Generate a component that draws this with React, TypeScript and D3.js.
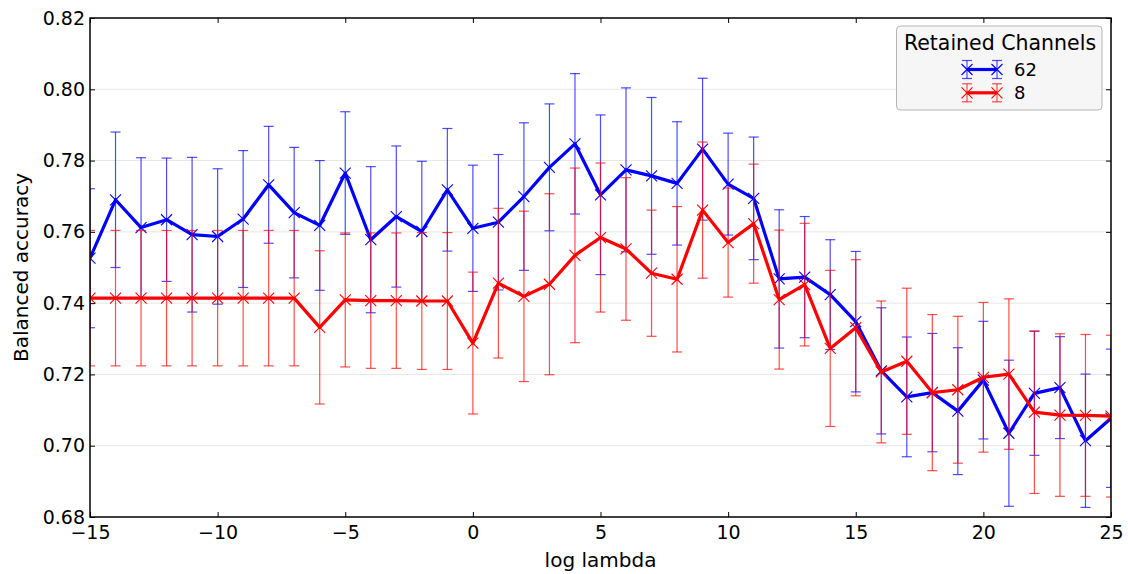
import React, { useEffect, useRef } from 'react';
import * as d3 from 'd3';

// log lambda values
const lambdas = d3.range(-15, 26);

// 62 retained channels
const acc62 = [
  0.7526, 0.769, 0.7612, 0.7634, 0.7592, 0.7587, 0.7636, 0.7732, 0.7654, 0.7618,
  0.7765, 0.7578, 0.7643, 0.7601, 0.7718, 0.761, 0.7627, 0.7699, 0.7781, 0.7847,
  0.7704, 0.7774, 0.7757, 0.7736, 0.7832, 0.7734, 0.7694, 0.7468, 0.7473, 0.7424,
  0.7348, 0.721, 0.7137, 0.7149, 0.7097, 0.7184, 0.7035, 0.7147, 0.7163, 0.7014,
  0.7077
];
const err62 = [
  0.0195, 0.019, 0.0196, 0.0173, 0.0217, 0.019, 0.0192, 0.0164, 0.0183, 0.0182,
  0.0172, 0.0205, 0.0198, 0.0197, 0.0172, 0.0177, 0.019, 0.0207, 0.0178, 0.0197,
  0.0224, 0.023, 0.022, 0.0173, 0.0199, 0.0143, 0.0172, 0.0194, 0.017, 0.0154,
  0.0197, 0.0177, 0.0168, 0.0166, 0.0178, 0.0165, 0.0205, 0.0174, 0.0143, 0.0187,
  0.0194
];

// 8 retained channels
const acc8 = [
  0.7414, 0.7414, 0.7414, 0.7414, 0.7414, 0.7414, 0.7414, 0.7414, 0.7414, 0.7332,
  0.7409, 0.7407, 0.7407, 0.7406, 0.7406, 0.7288, 0.7456, 0.7419, 0.7453, 0.7534,
  0.7584, 0.7552, 0.7484, 0.7467, 0.7661, 0.757, 0.7623, 0.741, 0.7452, 0.7273,
  0.7331, 0.7207, 0.7237, 0.7149, 0.7157, 0.7192, 0.7201, 0.7094, 0.7086, 0.7085,
  0.7083
];
const err8 = [
  0.019, 0.019, 0.019, 0.019, 0.019, 0.019, 0.019, 0.019, 0.019, 0.0215,
  0.0188, 0.019, 0.019, 0.0192, 0.0192, 0.0199, 0.021, 0.0239, 0.0254, 0.0245,
  0.0209, 0.02, 0.0177, 0.0204, 0.0191, 0.0153, 0.0167, 0.0195, 0.0172, 0.0219,
  0.0191, 0.0199, 0.0205, 0.0219, 0.0206, 0.021, 0.0211, 0.0228, 0.0228, 0.0227,
  0.0227
];

const seriesNames = ['62', '8'];
const seriesColors = ['#0000ff', '#ff0000'];
const xTicks = [-15, -10, -5, 0, 5, 10, 15, 20, 25];
const yTicks = [0.68, 0.70, 0.72, 0.74, 0.76, 0.78, 0.80, 0.82];

const font = 'DejaVu Sans, sans-serif';

export default function App() {
  const ref = useRef<SVGSVGElement>(null);

  useEffect(() => {
    const W = 1128, H = 574;
    const m = { left: 90, right: 1111, top: 18, bottom: 517 };
    const svg = d3.select(ref.current);
    svg.selectAll('*').remove();

    const x = d3.scaleLinear().domain([-15, 25]).range([m.left, m.right]);
    const y = d3.scaleLinear().domain([0.68, 0.82]).range([m.bottom, m.top]);

    svg.append('rect').attr('width', W).attr('height', H).attr('fill', '#fff');

    svg.append('defs').append('clipPath').attr('id', 'plotclip')
      .append('rect')
      .attr('x', m.left).attr('y', m.top)
      .attr('width', m.right - m.left).attr('height', m.bottom - m.top);

    // horizontal grid
    svg.append('g')
      .selectAll('line')
      .data(yTicks.slice(1, -1))
      .enter()
      .append('line')
      .attr('x1', m.left).attr('x2', m.right)
      .attr('y1', d => y(d)).attr('y2', d => y(d))
      .attr('stroke', '#e6e6e6')
      .attr('stroke-width', 1);

    const plot = svg.append('g').attr('clip-path', 'url(#plotclip)');
    const series = [
      { acc: acc62, err: err62 },
      { acc: acc8, err: err8 },
    ];

    const cross = (cx: number, cy: number, r: number) =>
      `M${cx - r},${cy - r}L${cx + r},${cy + r}M${cx - r},${cy + r}L${cx + r},${cy - r}`;

    series.forEach((s, k) => {
      const color = seriesColors[k];
      const pts = lambdas.map((l, i) => ({ l, v: s.acc[i], e: s.err[i] }));

      // error bars
      const eb = plot.append('g').attr('stroke', color).attr('stroke-opacity', 0.7).attr('stroke-width', 1.2);
      pts.forEach(p => {
        const x0 = x(p.l), y1 = y(p.v + p.e), y2 = y(p.v - p.e);
        eb.append('line').attr('x1', x0).attr('x2', x0).attr('y1', y1).attr('y2', y2);
        eb.append('line').attr('x1', x0 - 5).attr('x2', x0 + 5).attr('y1', y1).attr('y2', y1);
        eb.append('line').attr('x1', x0 - 5).attr('x2', x0 + 5).attr('y1', y2).attr('y2', y2);
      });

      const line = d3.line<any>().x(d => x(d.l)).y(d => y(d.v));
      plot.append('path')
        .datum(pts)
        .attr('d', line)
        .attr('fill', 'none')
        .attr('stroke', color)
        .attr('stroke-width', 3.2)
        .attr('stroke-linejoin', 'round');

      // x markers
      plot.append('g')
        .selectAll('path')
        .data(pts)
        .enter()
        .append('path')
        .attr('d', d => cross(x(d.l), y(d.v), 5.5))
        .attr('fill', 'none')
        .attr('stroke', color)
        .attr('stroke-width', 1.1);
    });

    // frame
    svg.append('rect')
      .attr('x', m.left).attr('y', m.top)
      .attr('width', m.right - m.left).attr('height', m.bottom - m.top)
      .attr('fill', 'none').attr('stroke', '#000').attr('stroke-width', 1.5);

    const fmtX = (d: number) => (d < 0 ? '\u2212' + Math.abs(d) : String(d));

    // bottom axis
    const gx = svg.append('g').attr('transform', `translate(0,${m.bottom})`)
      .call(d3.axisBottom(x).tickValues(xTicks).tickFormat(fmtX as any).tickSizeInner(-5).tickSizeOuter(0).tickPadding(9));
    // top axis ticks
    const gxt = svg.append('g').attr('transform', `translate(0,${m.top})`)
      .call(d3.axisTop(x).tickValues(xTicks).tickFormat(() => '').tickSizeInner(-5).tickSizeOuter(0));
    // left axis
    const gy = svg.append('g').attr('transform', `translate(${m.left},0)`)
      .call(d3.axisLeft(y).tickValues(yTicks).tickFormat(d3.format('.2f') as any).tickSizeInner(-5).tickSizeOuter(0).tickPadding(5));
    // right axis ticks
    const gyr = svg.append('g').attr('transform', `translate(${m.right},0)`)
      .call(d3.axisRight(y).tickValues(yTicks).tickFormat(() => '').tickSizeInner(-5).tickSizeOuter(0));

    [gx, gxt, gy, gyr].forEach(g => {
      g.select('.domain').remove();
      g.selectAll('line').attr('stroke', '#000').attr('stroke-width', 1);
      g.selectAll('text').attr('font-family', font).attr('font-size', 19).attr('fill', '#000');
    });

    // axis labels
    svg.append('text')
      .attr('x', (m.left + m.right) / 2).attr('y', 567)
      .attr('text-anchor', 'middle')
      .attr('font-family', font).attr('font-size', 20)
      .text('log lambda');
    svg.append('text')
      .attr('transform', `translate(28,${(m.top + m.bottom) / 2}) rotate(-90)`)
      .attr('text-anchor', 'middle')
      .attr('font-family', font).attr('font-size', 20)
      .text('Balanced accuracy');

    // legend
    const lg = svg.append('g');
    lg.append('rect')
      .attr('x', 896.5).attr('y', 26).attr('width', 205.5).attr('height', 84)
      .attr('rx', 4)
      .attr('fill', '#f5f5f5').attr('fill-opacity', 0.95)
      .attr('stroke', '#b5b5b5').attr('stroke-width', 1);
    lg.append('text')
      .attr('x', 1000).attr('y', 49.5)
      .attr('text-anchor', 'middle')
      .attr('font-family', font).attr('font-size', 20.5)
      .text('Retained Channels');

    seriesNames.forEach((name, k) => {
      const ly = 69.5 + k * 23.3;
      const color = seriesColors[k];
      const x1 = 967, x2 = 997;
      const row = lg.append('g');
      [x1, x2].forEach(px => {
        row.append('line').attr('x1', px).attr('x2', px).attr('y1', ly - 9).attr('y2', ly + 9)
          .attr('stroke', color).attr('stroke-opacity', 0.7).attr('stroke-width', 1.2);
        row.append('line').attr('x1', px - 5).attr('x2', px + 5).attr('y1', ly - 9).attr('y2', ly - 9)
          .attr('stroke', color).attr('stroke-opacity', 0.7).attr('stroke-width', 1.2);
        row.append('line').attr('x1', px - 5).attr('x2', px + 5).attr('y1', ly + 9).attr('y2', ly + 9)
          .attr('stroke', color).attr('stroke-opacity', 0.7).attr('stroke-width', 1.2);
        row.append('path')
          .attr('d', cross(px, ly, 5.5))
          .attr('fill', 'none')
          .attr('stroke', color).attr('stroke-width', 1.1);
      });
      row.append('line').attr('x1', x1).attr('x2', x2).attr('y1', ly).attr('y2', ly)
        .attr('stroke', color).attr('stroke-width', 3.2);
      row.append('text')
        .attr('x', 1014).attr('y', ly + 6.5)
        .attr('font-family', font).attr('font-size', 18)
        .text(name);
    });
  }, []);

  return (
    <svg ref={ref} width={1128} height={574}
      style={{ position: 'absolute', left: 0, top: 0, display: 'block' }} />
  );
}
